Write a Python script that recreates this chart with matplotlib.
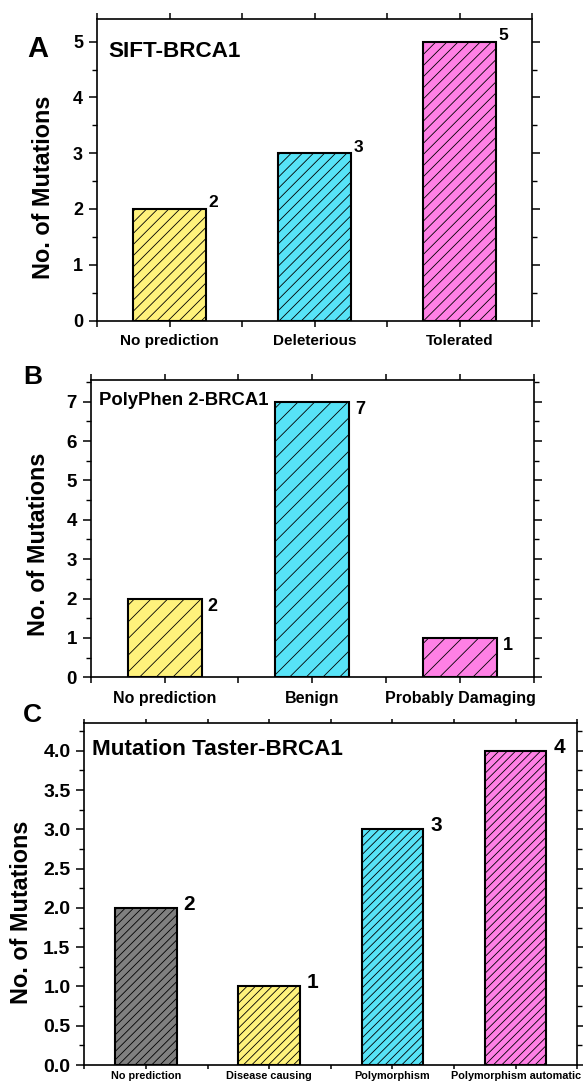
import matplotlib
matplotlib.use("Agg")
import matplotlib.pyplot as plt
from matplotlib.ticker import MultipleLocator, FormatStrFormatter

plt.rcParams["font.family"] = ["Liberation Sans", "DejaVu Sans"]
plt.rcParams["font.weight"] = "bold"
plt.rcParams["hatch.linewidth"] = 0.6

# Panel data
sift_categories = ["No prediction", "Deleterious", "Tolerated"]
sift_counts = [2, 3, 5]

polyphen_categories = ["No prediction", "Benign", "Probably Damaging"]
polyphen_counts = [2, 7, 1]

taster_categories = ["No prediction", "Disease causing", "Polymorphism",
                     "Polymorphism automatic"]
taster_counts = [2, 1, 3, 4]

YELLOW = "#FFF27C"
CYAN = "#57E3F7"
PINK = "#FF80E5"
GRAY = "#808080"

W, H = 583, 1084
fig = plt.figure(figsize=(W / 100, H / 100), dpi=100)


def box(left, right, top, bottom):
    return [left / W, 1 - bottom / H, (right - left) / W, (bottom - top) / H]


def style_axes(ax, ymax, ymajor, yminor, ytick_size, xtick_size, xpad, xlen=4):
    ax.set_ylim(0, ymax)
    ax.yaxis.set_major_locator(MultipleLocator(ymajor))
    ax.yaxis.set_minor_locator(MultipleLocator(yminor))
    ax.xaxis.set_minor_locator(MultipleLocator(0.5))
    for s in ax.spines.values():
        s.set_linewidth(1.2)
    ax.tick_params(axis="y", which="major", direction="out", length=6, width=1.1,
                   right=True, left=True, labelsize=ytick_size, pad=4)
    ax.tick_params(axis="y", which="minor", direction="out", length=3.5, width=1.0,
                   right=True, left=True)
    ax.tick_params(axis="x", which="both", direction="out", length=xlen, width=1.1,
                   top=True, bottom=True, labelsize=xtick_size, pad=xpad)
    for lbl in ax.get_yticklabels() + ax.get_xticklabels():
        lbl.set_fontweight("bold")


def draw_bars(ax, cats, vals, colors, hatch):
    x = list(range(1, len(cats) + 1))
    ax.bar(x, vals, width=0.5, color=colors, edgecolor="black",
           linewidth=1.5, hatch=hatch, zorder=2)
    ax.set_xlim(0.5, len(cats) + 0.5)
    ax.set_xticks(x)
    ax.set_xticklabels(cats)
    return x


# ---- Panel A: SIFT ----
axA = fig.add_axes(box(97, 532, 19.3, 320.5))
xA = draw_bars(axA, sift_categories, sift_counts, [YELLOW, CYAN, PINK], "///")
style_axes(axA, 5.4, 1, 0.5, 13, 11, 6)
for xi, v in zip(xA, sift_counts):
    axA.annotate(str(v), (xi + 0.25, v), xytext=(3, 1.5), textcoords="offset pixels",
                 ha="left", va="baseline", fontsize=12.5, fontweight="bold")

# ---- Panel B: PolyPhen 2 ----
axB = fig.add_axes(box(90.7, 534, 380, 677.3))
xB = draw_bars(axB, polyphen_categories, polyphen_counts, [YELLOW, CYAN, PINK], "//")
style_axes(axB, 7.55, 1, 0.5, 13.5, 11.5, 6)
for xi, v in zip(xB, polyphen_counts):
    axB.annotate(str(v), (xi + 0.25, v), xytext=(6, 1), textcoords="offset pixels",
                 ha="left", va="top", fontsize=13, fontweight="bold")

# ---- Panel C: Mutation Taster ----
axC = fig.add_axes(box(84.3, 577.3, 723.3, 1065))
xC = draw_bars(axC, taster_categories, taster_counts, [GRAY, YELLOW, CYAN, PINK], "////")
style_axes(axC, 4.35, 0.5, 0.25, 14, 7.8, 1.5, xlen=3)
axC.yaxis.set_major_formatter(FormatStrFormatter("%.1f"))
for lbl in axC.get_yticklabels():
    lbl.set_fontweight("bold")
for xi, v in zip(xC, taster_counts):
    axC.annotate(str(v), (xi + 0.25, v), xytext=(7, 3.5), textcoords="offset pixels",
                 ha="left", va="center", fontsize=15, fontweight="bold")

# Axis titles, in-plot titles and panel letters
for (px, py) in [(44, 187.5), (39, 544.5), (21, 912)]:
    fig.text(px / W, 1 - py / H, "No. of Mutations", rotation=90, ha="center",
             va="center", fontsize=16.8, fontweight="bold")

for (px, py, txt, size) in [(108, 57, "SIFT-BRCA1", 16.2),
                            (99, 405, "PolyPhen 2-BRCA1", 13.3),
                            (92.5, 755, "Mutation Taster-BRCA1", 16.2)]:
    fig.text(px / W, 1 - py / H, txt, ha="left", va="baseline",
             fontsize=size, fontweight="bold")

for (px, py, txt, size) in [(27, 57, "A", 21),
                            (23, 384, "B", 19),
                            (23, 722, "C", 19)]:
    fig.text(px / W, 1 - py / H, txt, ha="left", va="baseline",
             fontsize=size, fontweight="bold")

fig.savefig("out.png", dpi=100)
